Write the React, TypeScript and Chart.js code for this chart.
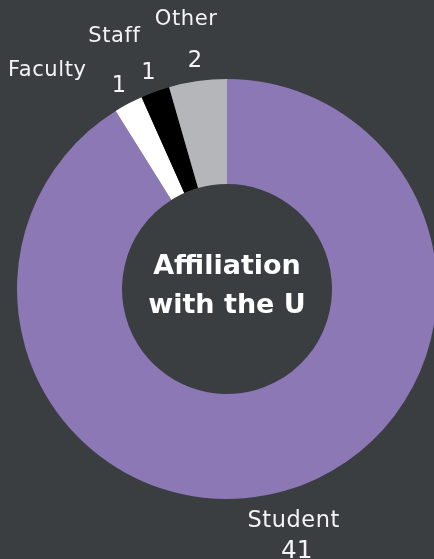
import React, { useEffect, useRef } from "react";
import { Chart, registerables } from "chart.js";

Chart.register(...registerables);

const categories = ["Student", "Faculty", "Staff", "Other"];
const counts = [41, 1, 1, 2];
const sliceColors = ["#8b78b5", "#ffffff", "#000000", "#b5b6ba"];
const centerLines = ["Affiliation", "with the U"];

const BG = "#3b3e41";
const FONT = "'DejaVu Sans', sans-serif";

const labelPlugin = {
  id: "outLabels",
  afterDatasetsDraw(chart: any) {
    const ctx = chart.ctx;
    const meta = chart.getDatasetMeta(0);
    const arcs = meta.data;
    const deg = Math.PI / 180;
    const total = counts.reduce((s, v) => s + v, 0);
    const info = arcs.map((arc: any, i: number) => {
      const p = arc.getProps(["startAngle", "endAngle", "outerRadius", "x", "y"], true);
      const mid = (p.startAngle + p.endAngle) / 2;
      let a = mid + Math.PI / 2;
      a = ((a % (2 * Math.PI)) + 2 * Math.PI) % (2 * Math.PI);
      return { i, a, p };
    });
    const top = info.filter((o: any) => Math.cos(o.a) > 0 && o.a > Math.PI).sort((u: any, v: any) => v.a - u.a);
    const nameAngle: Record<number, number> = {};
    let prev = Infinity;
    top.forEach((o: any) => {
      const na = Math.min(o.a, prev - 15.5 * deg);
      nameAngle[o.i] = na;
      prev = na;
    });
    const polar = (p: any, a: number, r: number) => ({
      x: p.x + Math.sin(a) * r,
      y: p.y - Math.cos(a) * r,
    });
    ctx.save();
    ctx.fillStyle = "#f4f4f4";
    ctx.textAlign = "center";
    ctx.textBaseline = "middle";
    info.forEach((o: any) => {
      const { p, a, i } = o;
      const R = p.outerRadius;
      const share = counts[i] / total;
      let nPos, vPos;
      if (Math.cos(a) > 0) {
        vPos = polar(p, a, R + 20);
        const na = nameAngle[i] ?? a;
        const shift = (a - na) / deg;
        nPos = polar(p, na, R + 62 + 0.8 * shift);
        nPos.x -= 3;
      } else {
        nPos = polar(p, a, R + 32);
        vPos = { x: nPos.x + 3, y: nPos.y + 30 };
      }
      ctx.font = `normal ${21 + 1.6 * share}px ${FONT}`;
      (ctx as any).letterSpacing = "0.6px";
      ctx.fillText(categories[i], nPos.x, nPos.y);
      (ctx as any).letterSpacing = "0px";
      ctx.font = `normal ${22.5 + 2.5 * share}px ${FONT}`;
      ctx.fillText(String(counts[i]), vPos.x, vPos.y);
    });
    const cx = arcs[0].x;
    const cy = arcs[0].y;
    ctx.fillStyle = "#ffffff";
    ctx.font = `bold 27px ${FONT}`;
    ctx.fillText(centerLines[0], cx, cy - 22);
    ctx.fillText(centerLines[1], cx, cy + 17);
    ctx.restore();
  },
};

export default function App() {
  const ref = useRef<HTMLCanvasElement>(null);
  useEffect(() => {
    document.body.style.margin = "0";
    document.body.style.background = BG;
    const chart = new Chart(ref.current!, {
      type: "doughnut",
      data: {
        labels: categories,
        datasets: [
          {
            data: counts,
            backgroundColor: sliceColors,
            borderWidth: 0,
          },
        ],
      },
      options: {
        animation: false,
        responsive: false,
        cutout: "50%",
        layout: { padding: { left: 17, right: 43, top: 79, bottom: 60 } },
        plugins: {
          legend: { display: false },
          tooltip: { enabled: false },
        },
      },
      plugins: [labelPlugin],
    });
    return () => chart.destroy();
  }, []);
  return (
    <div style={{ width: 434, height: 559, overflow: "hidden", background: BG, position: "relative" }}>
      <canvas ref={ref} width={480} height={559} style={{ position: "absolute", left: 0, top: 0 }} />
    </div>
  );
}
